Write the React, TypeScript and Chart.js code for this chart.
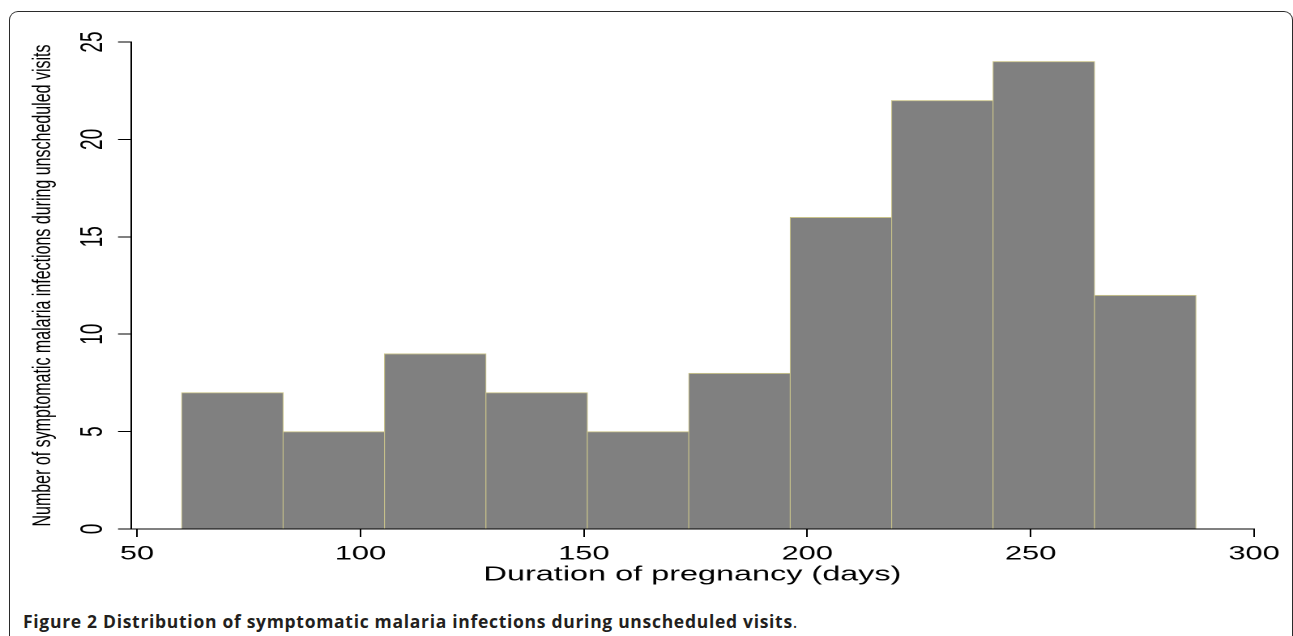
import React, { useEffect, useRef } from 'react';
import { Chart, registerables } from 'chart.js';

Chart.register(...registerables);

// ---- data ----
const binEdges = [60, 82.7, 105.4, 128.1, 150.8, 173.5, 196.2, 218.9, 241.6, 264.3, 287];
const counts = [7, 5, 9, 7, 5, 8, 16, 22, 24, 12];
const xTickValues = [50, 100, 150, 200, 250, 300];
const yTickValues = [0, 5, 10, 15, 20, 25];
const xAxisTitle = 'Duration of pregnancy (days)';
const yAxisTitle = 'Number of symptomatic malaria infections during unscheduled visits';
const captionBold = 'Figure 2 Distribution of symptomatic malaria infections during unscheduled visits';
const captionEnd = '.';

// ---- layout (page pixels) ----
const CW = 798; // canvas css width before horizontal stretch
const S = 1293 / CW; // horizontal stretch of the figure image
const CH = 600;
const AXIS_LEFT = 131;
const AXIS_RIGHT = 1254;
const AXIS_TOP = 42;
const AXIS_BOTTOM = 529;
const FONT = '"Liberation Sans", Arial, Helvetica, sans-serif';

export default function App() {
  const canvasRef = useRef<HTMLCanvasElement | null>(null);

  useEffect(() => {
    if (!canvasRef.current) return;
    const points = counts.map((c, i) => ({ x: (binEdges[i] + binEdges[i + 1]) / 2, y: c }));
    const chart = new Chart(canvasRef.current, {
      type: 'bar',
      data: {
        datasets: [
          {
            data: points as any,
            backgroundColor: '#808080',
            borderColor: '#c9c38b',
            borderWidth: { top: 1, left: 0.6, right: 0.6, bottom: 0 } as any,
            borderSkipped: false,
            barPercentage: 1,
            categoryPercentage: 1,
          },
        ],
      },
      options: {
        animation: false,
        responsive: true,
        maintainAspectRatio: false,
        devicePixelRatio: 2,
        layout: { padding: { left: 0, right: CW - AXIS_RIGHT / S, top: AXIS_TOP, bottom: 0 } },
        plugins: { legend: { display: false }, tooltip: { enabled: false } },
        scales: {
          x: {
            type: 'linear',
            min: 48.66,
            max: 300,
            offset: false,
            afterBuildTicks: (s: any) => {
              s.ticks = xTickValues.map((v) => ({ value: v }));
            },
            afterFit: (s: any) => {
              s.height = CH - AXIS_BOTTOM;
            },
            grid: { display: true, offset: false, drawOnChartArea: false, drawTicks: true, tickLength: 8, color: '#000', lineWidth: 1 },
            border: { display: true, color: '#000', width: 1 },
            ticks: { maxRotation: 0, minRotation: 0, autoSkip: false, padding: 6, color: '#000', font: { family: FONT, size: 19 } },
            title: { display: true, text: xAxisTitle, color: '#000', font: { family: FONT, size: 20 }, padding: { top: 0, bottom: 13 } },
          },
          y: {
            type: 'linear',
            min: 0,
            max: 25,
            afterBuildTicks: (s: any) => {
              s.ticks = yTickValues.map((v) => ({ value: v }));
            },
            afterFit: (s: any) => {
              s.width = AXIS_LEFT / S;
            },
            grid: { display: true, drawOnChartArea: false, drawTicks: true, tickLength: 8, color: '#000', lineWidth: 1 },
            border: { display: true, color: '#000', width: 1 },
            ticks: { minRotation: 90, maxRotation: 90, crossAlign: 'center', padding: 4.6, color: '#000', font: { family: FONT, size: 19 } },
            title: { display: true, text: yAxisTitle, color: '#000', font: { family: FONT, size: 16 }, padding: { top: 17, bottom: 0 } },
          },
        },
      } as any,
    });
    return () => chart.destroy();
  }, []);

  return (
    <div style={{ position: 'fixed', left: 0, top: 0, width: 1293, height: 636, overflow: 'hidden', background: '#fff' }}>
      <div
        style={{
          position: 'absolute',
          left: 9,
          top: 11,
          width: 1284,
          height: 700,
          boxSizing: 'border-box',
          borderTop: '1.6px solid #2b2b2b',
          borderLeft: '1.6px solid #2b2b2b',
          borderRight: '1.6px solid #2b2b2b',
          borderTopLeftRadius: 9,
          borderTopRightRadius: 9,
        }}
      />
      <div
        style={{
          position: 'absolute',
          left: 0,
          top: 0,
          width: CW,
          height: CH,
          transform: `scaleX(${S})`,
          transformOrigin: '0 0',
        }}
      >
        <canvas ref={canvasRef} />
      </div>
      <div
        style={{
          position: 'absolute',
          left: 23,
          top: 611,
          lineHeight: '20px',
          fontFamily: '"Open Sans", "Noto Sans", sans-serif',
          fontSize: 17.5,
          letterSpacing: '0.7px',
          color: '#231f20',
          whiteSpace: 'nowrap',
        }}
      >
        <span style={{ fontWeight: 700 }}>{captionBold}</span>
        <span>{captionEnd}</span>
      </div>
    </div>
  );
}
